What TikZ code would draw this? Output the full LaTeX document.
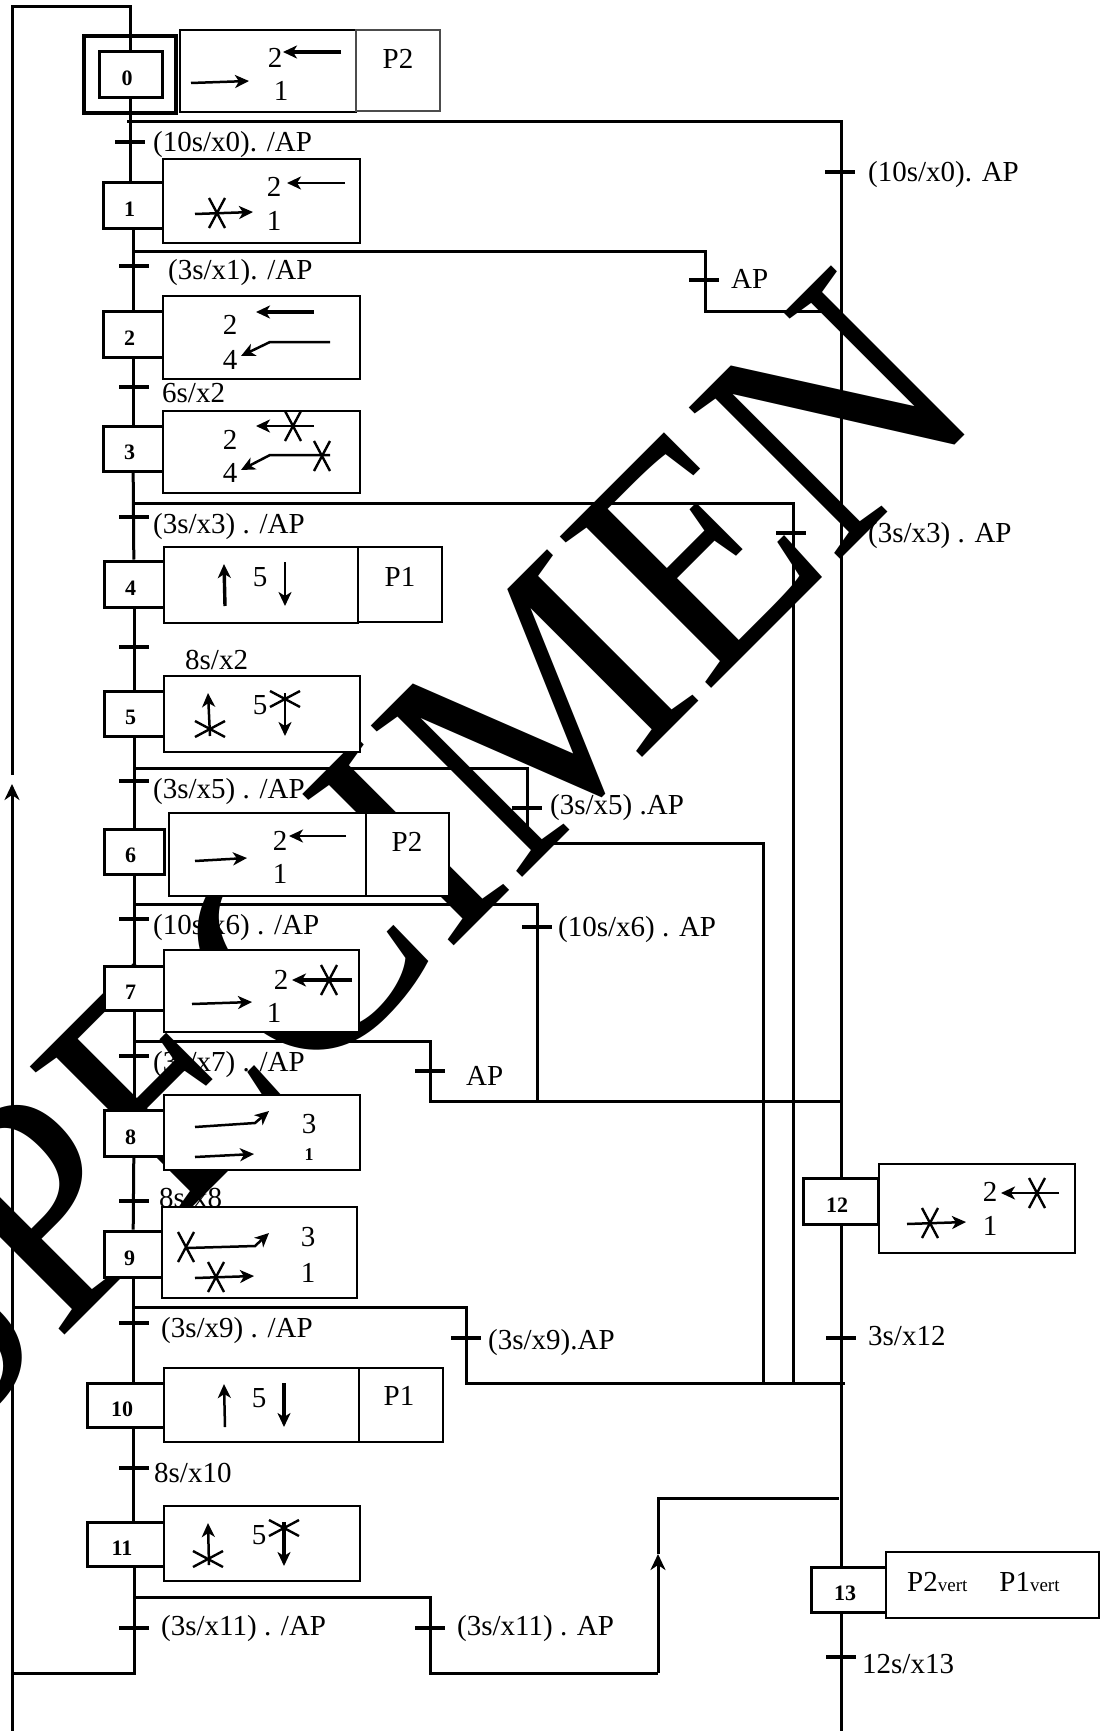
\documentclass[tikz,border=0pt]{standalone}
\usepackage{fontspec}
\usepackage{graphicx}
\setmainfont{Liberation Serif}
\usetikzlibrary{arrows.meta}
\newcommand{\stepnum}[1]{\raisebox{-11pt}[0pt][0pt]{#1}\hspace*{7pt}}
\tikzset{
    rail/.style={line width=3pt},
    flow/.style={line width=3pt},
    stepbox/.style={draw, fill=white, line width=3pt, inner sep=0pt, font=\fontsize{22}{22}\selectfont\bfseries},
    actbox/.style={draw, fill=white, line width=2.6pt, inner sep=0pt},
    tick/.style={fill=black, inner sep=0pt, minimum width=30pt, minimum height=4.2pt},
    cond/.style={anchor=west, inner sep=0pt, text height=20pt, text depth=6pt, font=\fontsize{29}{29}\selectfont},
    digit/.style={inner sep=0pt, font=\fontsize{29}{29}\selectfont},
    wmark/.style={anchor=base west, rotate=45, inner sep=0pt, font=\fontsize{300}{300}\selectfont},
    thin arrow/.style={line width=2.5pt, -{Stealth[length=14pt, width=13pt, inset=4pt]}},
    fat arrow/.style={line width=3.4pt, -{Stealth[length=14pt, width=13pt, inset=4pt]}},
    xmark/.pic={\draw[line width=2.4pt] (-8,-15) -- (8,15) (8,-15) -- (-8,15);},
    starmark/.pic={\draw[line width=2.4pt] (-15,-8) -- (15,8) (15,-8) -- (-15,8);}
}
\begin{document}
\begin{tikzpicture}[x=1pt, y=-1pt]
        \clip (0,0) rectangle (1107,1731);
        \node[wmark] (wm) at (-61,1461) {\scalebox{1}[1.09]{SPECIMEN}};

        \node[stepbox, line width=3.4pt, minimum width=92pt, minimum height=77pt] (s0out) at (130,74.5) {};
        \node[stepbox, minimum width=63pt, minimum height=46pt] (s0) at (130.5,75) {\stepnum{0}};
        \node[stepbox, minimum width=60pt, minimum height=45pt] (s1) at (133,205.5) {\stepnum{1}};
        \node[stepbox, minimum width=60pt, minimum height=46pt] (s2) at (133,334) {\stepnum{2}};
        \node[stepbox, minimum width=60pt, minimum height=45pt] (s3) at (133,448.5) {\stepnum{3}};
        \node[stepbox, minimum width=60pt, minimum height=46pt] (s4) at (134,584) {\stepnum{4}};
        \node[stepbox, minimum width=60pt, minimum height=45pt] (s5) at (134,713.5) {\stepnum{5}};
        \node[stepbox, minimum width=60pt, minimum height=45pt] (s6) at (134,851.5) {\stepnum{6}};
        \node[stepbox, minimum width=60pt, minimum height=44pt] (s7) at (134,988) {\stepnum{7}};
        \node[stepbox, minimum width=60pt, minimum height=46pt] (s8) at (134,1133) {\stepnum{8}};
        \node[stepbox, minimum width=58pt, minimum height=46pt] (s9) at (133,1254) {\stepnum{9}};
        \node[stepbox, minimum width=77pt, minimum height=44pt] (s10) at (125.5,1405) {\stepnum{10}};
        \node[stepbox, minimum width=77pt, minimum height=44pt] (s11) at (125.5,1544) {\stepnum{11}};
        \node[stepbox, minimum width=75pt, minimum height=46pt] (s12) at (840.5,1201) {\stepnum{12}};
        \node[stepbox, minimum width=75pt, minimum height=45pt] (s13) at (848.5,1589.5) {\stepnum{13}};

        \node[actbox, minimum width=176pt, minimum height=82pt] (a0) at (268,71) {};
        \node[actbox, draw=black!70, minimum width=84pt, minimum height=81pt] (p0) at (398,70.5) {};
        \node[actbox, minimum width=197pt, minimum height=84pt] (a1) at (261.5,201) {};
        \node[actbox, minimum width=197pt, minimum height=83pt] (a2) at (261.5,337.5) {};
        \node[actbox, minimum width=197pt, minimum height=82pt] (a3) at (261.5,452) {};
        \node[actbox, minimum width=194pt, minimum height=76pt] (a4) at (261,585) {};
        \node[actbox, minimum width=84pt, minimum height=75pt] (p4) at (400,584.5) {};
        \node[actbox, minimum width=196pt, minimum height=76pt] (a5) at (262,714) {};
        \node[actbox, minimum width=197pt, minimum height=83pt] (a6) at (267.5,854.5) {};
        \node[actbox, minimum width=83pt, minimum height=83pt] (p6) at (407.5,854.5) {};
        \node[actbox, minimum width=195pt, minimum height=82pt] (a7) at (261.5,991) {};
        \node[actbox, minimum width=196pt, minimum height=75pt] (a8) at (262,1132.5) {};
        \node[actbox, minimum width=195pt, minimum height=91pt] (a9) at (259.5,1252.5) {};
        \node[actbox, minimum width=195pt, minimum height=74pt] (a10) at (261.5,1405) {};
        \node[actbox, minimum width=84pt, minimum height=74pt] (p10) at (401,1405) {};
        \node[actbox, minimum width=196pt, minimum height=75pt] (a11) at (262,1543.5) {};
        \node[actbox, minimum width=196pt, minimum height=89pt] (a12) at (977,1208.5) {};
        \node[actbox, minimum width=213pt, minimum height=66pt] (a13) at (992.5,1585) {};

        \coordinate (up1) at (12,7);
        \coordinate (up2) at (12,775);
        \coordinate (low1) at (12,784);
        \coordinate (low2) at (12,1731);
        \coordinate (foot1) at (134,1673);
        \coordinate (foot2) at (12,1673);
        \coordinate (j0) at (127,122);
        \coordinate (r0) at (841,122);
        \coordinate (r1) at (841,1731);
        \coordinate (j1) at (134,251);
        \coordinate (k1) at (705,251);
        \coordinate (m1) at (705,311);
        \coordinate (n1) at (841,311);
        \coordinate (j3) at (134,503);
        \coordinate (k3) at (793,503);
        \coordinate (m3) at (793,1383);
        \coordinate (j5) at (134,768);
        \coordinate (k5) at (527,768);
        \coordinate (m5) at (527,843);
        \coordinate (p5) at (763,843);
        \coordinate (q5) at (763,1383);
        \coordinate (j6) at (134,904);
        \coordinate (k6) at (537,904);
        \coordinate (m6) at (537,1101);
        \coordinate (j7) at (134,1041);
        \coordinate (k7) at (430,1041);
        \coordinate (m7) at (430,1101);
        \coordinate (n7) at (841,1101);
        \coordinate (j9) at (133,1307);
        \coordinate (k9) at (466,1307);
        \coordinate (m9) at (466,1383);
        \coordinate (n9) at (845,1383);
        \coordinate (j11) at (134,1597);
        \coordinate (k11) at (430,1597);
        \coordinate (m11) at (430,1673);
        \coordinate (p11) at (658,1673);
        \coordinate (t11) at (658,1554);
        \coordinate (q11) at (658,1498);
        \coordinate (n11) at (839,1498);

        \draw[rail] (s0.north) -- (s0.north |- up1) -- (up1) -- (up2);
        \draw[flow, -{Stealth[length=16pt, width=15pt, inset=5pt]}] (low2) -- (low1);
        \draw[rail] (s0.south) -- (s0.south |- s1.north);
        \draw[rail] (s1) -- (s2);
        \draw[rail] (s2) -- (s3);
        \draw[rail] (s3) -- (s4);
        \draw[rail] (s4) -- (s5);
        \draw[rail] (s5) -- (s6);
        \draw[rail] (s6) -- (s7);
        \draw[rail] (s7) -- (s8);
        \draw[rail] (s8) -- (s9);
        \draw[rail] (s9) -- (s10.north -| s9);
        \draw[rail] (s10.south -| s9) -- (s11.north -| s9);
        \draw[rail] (s11.south -| foot1) -- (foot1) -- (foot2);
        \draw[rail] (j0) -- (r0) -- (s12.north -| r0);
        \draw[rail] (s12.south -| r0) -- (s13.north -| r0);
        \draw[rail] (s13.south -| r0) -- (r1);
        \draw[flow] (j1) -- (k1) -- (m1) -- (n1);
        \draw[flow] (j3) -- (k3) -- (m3);
        \draw[flow] (j5) -- (k5) -- (m5) -- (p5) -- (q5);
        \draw[flow] (j6) -- (k6) -- (m6);
        \draw[flow] (j7) -- (k7) -- (m7) -- (n7);
        \draw[flow] (j9) -- (k9) -- (m9) -- (n9);
        \draw[flow] (j11) -- (k11) -- (m11) -- (p11);
        \draw[flow, -{Stealth[length=16pt, width=15pt, inset=5pt]}] (p11) -- (t11);
        \draw[flow] (t11) -- (q11) -- (n11);

        \node[tick] (t0) at (130,142) {};
        \node[tick] (t1) at (133.5,266) {};
        \node[tick] (t2) at (133.5,387) {};
        \node[tick] (t3) at (134,517) {};
        \node[tick] (t4) at (134,647) {};
        \node[tick] (t5) at (134,781) {};
        \node[tick] (t6) at (134,919) {};
        \node[tick] (t7) at (134,1056) {};
        \node[tick] (t8) at (134,1201) {};
        \node[tick] (t9) at (134,1323) {};
        \node[tick] (t10) at (134,1468) {};
        \node[tick] (t11b) at (134,1628) {};
        \node[tick] (u0) at (840,172) {};
        \node[tick] (u1) at (704,280) {};
        \node[tick] (u3) at (791,533) {};
        \node[tick] (u5) at (527,808) {};
        \node[tick] (u6) at (537,927) {};
        \node[tick] (u7) at (430,1071) {};
        \node[tick] (u9) at (466,1338) {};
        \node[tick] (u11) at (430,1628) {};
        \node[tick] (u12) at (841,1338) {};
        \node[tick] (u13) at (841,1657) {};

        \node[cond] (c0) at (153,145) {(10s/x0). /AP};
        \node[cond] (c1) at (168,272) {(3s/x1). /AP};
        \node[cond] (c2) at (162,395) {6s/x2};
        \node[cond] (c3) at (153,526) {(3s/x3) . /AP};
        \node[cond] (c4) at (185,662) {8s/x2};
        \node[cond] (c5) at (153,791) {(3s/x5) . /AP};
        \node[cond] (c6) at (153,927) {(10s/x6) . /AP};
        \node[cond] (c7) at (153,1064) {(3s/x7) . /AP};
        \node[cond] (c8) at (159,1200) {8s/x8};
        \node[cond] (c9) at (161,1330) {(3s/x9) . /AP};
        \node[cond] (c10) at (154,1475) {8s/x10};
        \node[cond] (c11) at (161,1628) {(3s/x11) . /AP};
        \node[cond] (d0) at (868,175) {(10s/x0). AP};
        \node[cond] (d1) at (731,281) {AP};
        \node[cond] (d3) at (868,535) {(3s/x3) . AP};
        \node[cond] (d5) at (550,807) {(3s/x5) .AP};
        \node[cond] (d6) at (558,929) {(10s/x6) . AP};
        \node[cond] (d7) at (466,1078) {AP};
        \node[cond] (d9) at (488,1342) {(3s/x9).AP};
        \node[cond] (d11) at (457,1628) {(3s/x11) . AP};
        \node[cond] (d12) at (868,1338) {3s/x12};
        \node[cond] (d13) at (862,1666) {12s/x13};

        \node[digit] (n0a) at (275,58) {2};
        \node[digit] (n0b) at (281,91) {1};
        \node[digit] (n1a) at (274,187) {2};
        \node[digit] (n1b) at (274,221) {1};
        \node[digit] (n2a) at (230,325) {2};
        \node[digit] (n2b) at (230,360) {4};
        \node[digit] (n3a) at (230,440) {2};
        \node[digit] (n3b) at (230,473) {4};
        \node[digit] (n4a) at (260,577) {5};
        \node[digit] (n5a) at (260,705) {5};
        \node[digit] (n6a) at (280,841) {2};
        \node[digit] (n6b) at (280,874) {1};
        \node[digit] (n7a) at (281,980) {2};
        \node[digit] (n7b) at (274,1013) {1};
        \node[digit] (n8a) at (309,1124) {3};
        \node[inner sep=0pt, font=\fontsize{18}{18}\selectfont\bfseries] (n8b) at (309,1155) {1};
        \node[digit] (n9a) at (308,1237) {3};
        \node[digit] (n9b) at (308,1273) {1};
        \node[digit] (n10a) at (259,1398) {5};
        \node[digit] (n11a) at (259,1535) {5};
        \node[digit] (n12a) at (990,1192) {2};
        \node[digit] (n12b) at (990,1226) {1};
        \node[digit] (q0) at (398,59) {P2};
        \node[digit] (q4) at (400,577) {P1};
        \node[digit] (q6) at (407,842) {P2};
        \node[digit] (q10) at (399,1396) {P1};
        \node[digit, anchor=west] (q13) at (907,1582) {P2{\fontsize{19}{19}\selectfont vert}\hspace{32pt}P1{\fontsize{19}{19}\selectfont vert}};

        \draw[fat arrow] (341,52) -- (283,52);
        \draw[thin arrow] (191,83) -- (249,81);
        \draw[thin arrow] (345,183) -- (287,183);
        \draw[thin arrow] (195,214) -- (253,212);
        \pic at (217,213) {xmark};
        \draw[fat arrow] (314,312) -- (256,312);
        \draw[thin arrow] (330,342) -- (270,342) -- (241,356);
        \draw[thin arrow] (314,426) -- (256,426);
        \pic at (293,426) {xmark};
        \draw[thin arrow] (330,455) -- (270,455) -- (241,470);
        \pic at (322,456) {xmark};
        \draw[fat arrow] (225,606) -- (224,564);
        \draw[thin arrow] (285,562) -- (285,606);
        \draw[thin arrow] (210,736) -- (208,693);
        \pic at (210,729) {starmark};
        \draw[thin arrow] (285,693) -- (285,736);
        \pic at (285,699) {starmark};
        \draw[thin arrow] (346,836) -- (289,836);
        \draw[thin arrow] (195,861) -- (247,858);
        \draw[fat arrow] (352,980) -- (292,980);
        \pic at (329,980) {xmark};
        \draw[thin arrow] (192,1004) -- (252,1002);
        \draw[thin arrow] (195,1127) -- (255,1123) -- (269,1111);
        \draw[thin arrow] (195,1157) -- (254,1154);
        \draw[thin arrow] (187,1248) -- (255,1246) -- (269,1233);
        \pic at (186,1247) {xmark};
        \draw[thin arrow] (195,1278) -- (254,1276);
        \pic at (216,1277) {xmark};
        \draw[thin arrow] (225,1427) -- (224,1384);
        \draw[fat arrow] (284,1383) -- (284,1427);
        \draw[thin arrow] (209,1565) -- (208,1523);
        \pic at (208,1559) {starmark};
        \draw[fat arrow] (284,1522) -- (284,1566);
        \pic at (284,1528) {starmark};
        \draw[thin arrow] (1059,1193) -- (1001,1193);
        \pic at (1037,1193) {xmark};
        \draw[thin arrow] (907,1224) -- (966,1222);
        \pic at (930,1223) {xmark};
\end{tikzpicture}
\end{document}
